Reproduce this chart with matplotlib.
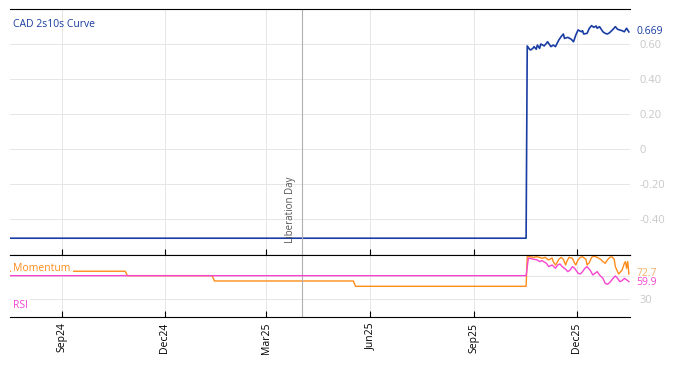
import matplotlib
matplotlib.use("Agg")
import matplotlib.pyplot as plt
import matplotlib.dates as mdates
import pandas as pd

plt.rcParams['font.family'] = ['Open Sans', 'DejaVu Sans']

# CAD 2s10s curve (flat placeholder, then live data)
curve_dates = ["2024-07-17", "2025-10-17",
               "2025-10-18", "2025-10-20", "2025-10-21", "2025-10-23", "2025-10-24",
               "2025-10-26", "2025-10-27", "2025-10-29", "2025-10-30", "2025-11-02",
               "2025-11-04", "2025-11-05", "2025-11-07", "2025-11-08", "2025-11-10",
               "2025-11-12", "2025-11-15", "2025-11-17", "2025-11-19", "2025-11-20",
               "2025-11-23", "2025-11-26", "2025-11-28", "2025-11-30", "2025-12-02",
               "2025-12-05", "2025-12-06", "2025-12-07", "2025-12-10", "2025-12-12",
               "2025-12-14", "2025-12-16", "2025-12-18", "2025-12-19", "2025-12-21",
               "2025-12-24", "2025-12-26", "2025-12-28", "2025-12-30", "2026-01-02",
               "2026-01-04", "2026-01-06", "2026-01-08", "2026-01-10", "2026-01-12",
               "2026-01-14", "2026-01-16"]
curve_vals = [-0.51, -0.51,
              0.589, 0.570, 0.566, 0.575, 0.585,
              0.570, 0.594, 0.575, 0.600, 0.589,
              0.604, 0.613, 0.594, 0.585, 0.594,
              0.585, 0.623, 0.642, 0.657, 0.632,
              0.638, 0.627, 0.613, 0.651, 0.680,
              0.670, 0.676, 0.657, 0.661, 0.690,
              0.705, 0.695, 0.703, 0.690, 0.699,
              0.670, 0.661, 0.657, 0.665, 0.684,
              0.699, 0.684, 0.680, 0.676, 0.670,
              0.690, 0.669]

mom_dates = ["2024-07-17", "2024-10-27", "2024-10-29", "2025-01-12", "2025-01-14",
             "2025-05-17", "2025-05-19", "2025-10-17",
             "2025-10-18", "2025-10-21", "2025-10-24", "2025-10-26", "2025-10-29",
             "2025-10-31", "2025-11-03", "2025-11-05", "2025-11-06", "2025-11-09",
             "2025-11-10", "2025-11-12", "2025-11-13", "2025-11-15", "2025-11-17",
             "2025-11-19", "2025-11-21", "2025-11-22", "2025-11-24", "2025-11-27",
             "2025-11-29", "2025-11-30", "2025-12-02", "2025-12-04", "2025-12-06",
             "2025-12-09", "2025-12-10", "2025-12-12", "2025-12-14", "2025-12-16",
             "2025-12-19", "2025-12-22", "2025-12-24", "2025-12-26", "2025-12-28",
             "2025-12-30", "2026-01-01", "2026-01-03", "2026-01-04", "2026-01-06",
             "2026-01-07", "2026-01-10", "2026-01-12", "2026-01-13", "2026-01-14",
             "2026-01-15", "2026-01-16"]
mom_vals = [77.5, 77.5, 70, 70, 61,
            61, 52, 52,
            102, 102, 101, 102, 101,
            99.4, 101, 97.7, 96.6, 100,
            93.8, 88.1, 90.9, 97.7, 101,
            97.7, 88.1, 93.8, 101, 99.4,
            90.9, 88.1, 96.6, 101, 102,
            97.7, 88.1, 92.1, 101, 103,
            101, 97.7, 93.8, 90.9, 96.6,
            101, 102, 97.7, 85.3, 76.8,
            72.9, 79.6, 90.9, 93.8, 82.5,
            93.8, 72.7]

rsi_dates = ["2024-07-17", "2025-10-17",
             "2025-10-19", "2025-10-21", "2025-10-24", "2025-10-27", "2025-10-29",
             "2025-10-31", "2025-11-04", "2025-11-06", "2025-11-09", "2025-11-12",
             "2025-11-14", "2025-11-16", "2025-11-18", "2025-11-21", "2025-11-23",
             "2025-11-25", "2025-11-27", "2025-11-29", "2025-12-02", "2025-12-04",
             "2025-12-06", "2025-12-08", "2025-12-10", "2025-12-13", "2025-12-15",
             "2025-12-17", "2025-12-19", "2025-12-21", "2025-12-24", "2025-12-26",
             "2025-12-28", "2025-12-30", "2026-01-02", "2026-01-04", "2026-01-06",
             "2026-01-08", "2026-01-10", "2026-01-12", "2026-01-15", "2026-01-16"]
rsi_vals = [70, 70,
            99.5, 99.0, 97.7, 96.6, 93.8,
            95.5, 90.9, 85.3, 88.1, 82.5,
            88.1, 89.8, 85.3, 80.8, 76.8,
            79.6, 85.3, 82.5, 74.0, 72.9,
            76.8, 82.5, 85.3, 78.5, 71.2,
            74.0, 76.8, 71.2, 65.5, 57.1,
            55.4, 58.2, 65.5, 69.5, 65.5,
            59.9, 61.6, 65.5, 61.6, 59.9]

curve_x = pd.to_datetime(curve_dates)
mom_x = pd.to_datetime(mom_dates)
rsi_x = pd.to_datetime(rsi_dates)
event_date = pd.Timestamp("2025-04-02")

BLUE = '#1a3da3'
ORANGE = '#ff8c1a'
PINK = '#f545d0'
GRID = '#e6e6e6'
TICKGRAY = '#c8c8c8'

fig = plt.figure(figsize=(6.74, 3.66), dpi=100)
ax = fig.add_axes([10/674, 1-255/366, 620/674, 246/366])
ax2 = fig.add_axes([10/674, 1-317/366, 620/674, 62/366], sharex=ax)

# main panel
ax.plot(curve_x, curve_vals, color=BLUE, lw=1.2)
ax.set_ylim(-0.606, 0.80)
ax.set_xlim(pd.Timestamp("2024-07-17"), pd.Timestamp("2026-01-17"))
yt = [-0.4, -0.2, 0, 0.2, 0.4, 0.6]
ax.set_yticks(yt)
ax.set_yticklabels(['0' if v == 0 else f'{v:.2f}' for v in yt])
ax.yaxis.tick_right()
ax.tick_params(axis='y', length=0, pad=7, labelsize=8, labelcolor=TICKGRAY)
ax.tick_params(axis='x', direction='in', length=4, labelbottom=False)
ax.grid(True, color=GRID, lw=0.7)
for s in ['left', 'right']:
    ax.spines[s].set_visible(False)
ax.axvline(event_date, color='#b0b0b0', lw=0.8)
ax.text(event_date - pd.Timedelta(days=11), -0.535, 'Liberation Day', rotation=90,
        fontsize=7, color='#555555', ha='center', va='bottom')
ax.text(0.005, 0.935, 'CAD 2s10s Curve', transform=ax.transAxes, color=BLUE,
        fontsize=7.5, ha='left', va='center')
ax.annotate('0.669', xy=(1.01, curve_vals[-1]), xycoords=('axes fraction', 'data'),
            color=BLUE, fontsize=7.5, va='center', ha='left')

# lower panel: label boxes sit above momentum but under rsi
ax2.plot(mom_x, mom_vals, color=ORANGE, lw=1.0, zorder=2)
ax2.plot(rsi_x, rsi_vals, color=PINK, lw=1.0, zorder=4)
ax2.set_ylim(0, 105)
ax2.set_yticks([30, 70])
ax2.set_yticklabels(['30', ''])
ax2.yaxis.tick_right()
ax2.tick_params(axis='y', length=0, pad=7, labelsize=8, labelcolor=TICKGRAY)
ax2.grid(True, color=GRID, lw=0.7)
for s in ['left', 'right']:
    ax2.spines[s].set_visible(False)
ax2.axvline(event_date, color='#b0b0b0', lw=0.8)
ax2.xaxis.set_major_locator(mdates.MonthLocator(bymonth=[3, 6, 9, 12]))
ax2.xaxis.set_major_formatter(mdates.DateFormatter('%b%y'))
ax2.tick_params(axis='x', direction='in', length=4, labelsize=7.5,
                labelrotation=90, pad=4)
ax2.text(0.005, 0.78, 'Momentum', transform=ax2.transAxes, color=ORANGE, fontsize=7.5,
         ha='left', va='center', zorder=3,
         bbox=dict(facecolor='white', edgecolor='none', alpha=0.95,
                   boxstyle='square,pad=0.2'))
ax2.text(0.005, 0.18, 'RSI', transform=ax2.transAxes, color=PINK, fontsize=7.5,
         ha='left', va='center', zorder=3,
         bbox=dict(facecolor='white', edgecolor='none', alpha=0.95,
                   boxstyle='square,pad=0.2'))
ax2.annotate('72.7', xy=(1.01, 73.5), xycoords=('axes fraction', 'data'),
             color='#f5b06a', fontsize=7.5, va='center', ha='left')
ax2.annotate('59.9', xy=(1.01, 58.5), xycoords=('axes fraction', 'data'),
             color=PINK, fontsize=7.5, va='center', ha='left')

fig.savefig("out.png", dpi=100)
